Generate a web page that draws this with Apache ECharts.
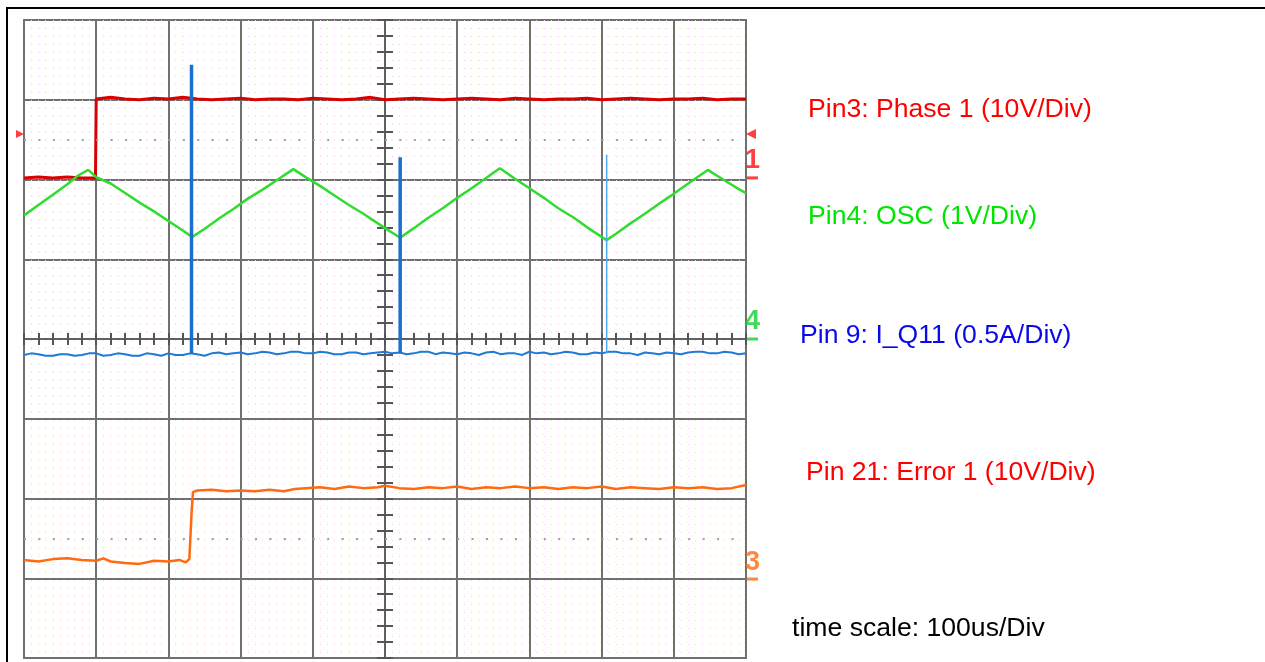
<!DOCTYPE html>
<html><head><meta charset="utf-8">
<script src="https://cdn.jsdelivr.net/npm/echarts@6/dist/echarts.min.js"></script>
<style>
html,body{margin:0;padding:0;background:#fff;overflow:hidden}
#frame{position:absolute;left:6px;top:7px;width:1400px;height:800px;border-left:2px solid #000;border-top:2px solid #000}
#chart{position:absolute;left:0;top:0;width:1265px;height:662px}
</style></head><body>
<div id="frame"></div><div id="chart"></div>
<script>
// time in microseconds (100 us / div, trigger at centre), amplitude in divisions (centre = 0)
const phaseTrace = [
  [-500,2.02],[-480,2.03],[-460,2.02],[-440,2.03],[-420,2.02],[-401,2.02],
  [-400,3.01],[-380,3.03],[-360,3.01],[-340,3.00],[-320,3.02],[-300,3.01],[-280,3.03],[-260,3.01],
  [-240,3.00],[-220,3.01],[-200,3.02],[-180,3.00],[-160,3.01],[-140,3.01],[-120,3.00],[-100,3.02],
  [-80,3.01],[-60,3.00],[-40,3.01],[-20,3.03],[0,3.00],[20,3.01],[40,3.02],[60,3.01],[80,3.00],
  [100,3.01],[120,3.02],[140,3.01],[160,3.00],[180,3.02],[200,3.01],[220,3.00],[240,3.01],[260,3.01],
  [280,3.02],[300,3.00],[320,3.01],[340,3.02],[360,3.01],[380,3.00],[400,3.01],[420,3.01],[440,3.02],
  [460,3.00],[480,3.01],[500,3.01]
];
const oscTrace = [
  [-500,1.55],[-480,1.68],[-460,1.81],[-440,1.94],[-425,2.05],[-411,2.12],[-400,2.03],[-380,1.95],
  [-360,1.83],[-340,1.71],[-320,1.60],[-300,1.48],[-280,1.36],[-267,1.28],[-250,1.38],[-230,1.51],
  [-210,1.63],[-190,1.76],[-170,1.87],[-150,1.99],[-127,2.13],[-110,2.03],[-90,1.92],[-70,1.80],
  [-50,1.68],[-30,1.57],[-10,1.45],[0,1.39],[21,1.27],[40,1.39],[60,1.52],[80,1.64],[100,1.77],
  [120,1.89],[140,2.02],[159,2.14],[180,2.01],[200,1.89],[220,1.77],[240,1.64],[260,1.53],[280,1.40],
  [307,1.24],[320,1.32],[340,1.45],[360,1.57],[380,1.70],[400,1.82],[420,1.95],[447,2.12],[470,1.99],
  [490,1.88],[500,1.83]
];
const currentTrace = [
  [-500,-0.20],[-490,-0.18],[-480,-0.19],[-470,-0.21],[-460,-0.21],[-450,-0.19],[-440,-0.19],[-430,-0.21],
  [-420,-0.20],[-410,-0.18],[-400,-0.18],[-390,-0.21],[-380,-0.20],[-370,-0.18],[-360,-0.19],[-350,-0.21],
  [-340,-0.21],[-330,-0.18],[-320,-0.19],[-310,-0.21],[-300,-0.18],[-290,-0.20],[-280,-0.20],[-270,-0.18],
  [-260,-0.19],[-250,-0.21],[-240,-0.18],[-230,-0.17],[-220,-0.19],[-210,-0.18],[-200,-0.17],[-190,-0.19],
  [-180,-0.18],[-170,-0.16],[-160,-0.17],[-150,-0.19],[-140,-0.18],[-130,-0.16],[-120,-0.16],[-110,-0.18],
  [-100,-0.18],[-90,-0.16],[-80,-0.17],[-70,-0.19],[-60,-0.19],[-50,-0.17],[-40,-0.17],[-30,-0.19],
  [-20,-0.18],[-10,-0.17],[0,-0.16],[10,-0.18],[20,-0.17],[30,-0.19],[40,-0.18],[50,-0.16],[60,-0.16],
  [70,-0.19],[80,-0.17],[90,-0.18],[100,-0.19],[110,-0.17],[120,-0.18],[130,-0.20],[140,-0.17],[150,-0.16],
  [160,-0.19],[170,-0.18],[180,-0.18],[190,-0.20],[200,-0.16],[210,-0.18],[220,-0.17],[230,-0.19],
  [240,-0.18],[250,-0.16],[260,-0.17],[270,-0.19],[280,-0.19],[290,-0.17],[300,-0.18],[310,-0.16],
  [320,-0.16],[330,-0.18],[340,-0.18],[350,-0.20],[360,-0.17],[370,-0.18],[380,-0.19],[390,-0.17],
  [400,-0.18],[410,-0.19],[420,-0.17],[430,-0.16],[440,-0.16],[450,-0.18],[460,-0.18],[470,-0.16],
  [480,-0.17],[490,-0.19],[500,-0.18]
];
const spikeTimes = [-268, 21, 307];
const spikeTops = [3.44, 2.28, 2.31];
const spikeBase = -0.18;
const errorTrace = [
  [-500,-2.77],[-480,-2.79],[-460,-2.76],[-440,-2.75],[-420,-2.77],[-400,-2.78],[-390,-2.75],[-380,-2.79],
  [-360,-2.81],[-340,-2.82],[-320,-2.78],[-300,-2.79],[-285,-2.77],[-276,-2.80],[-271,-2.76],[-268,-2.2],
  [-266,-1.92],[-260,-1.90],[-240,-1.89],[-220,-1.91],[-200,-1.90],[-180,-1.91],[-160,-1.89],[-140,-1.91],
  [-125,-1.88],[-110,-1.87],[-90,-1.86],[-70,-1.88],[-50,-1.85],[-30,-1.87],[-10,-1.86],[0,-1.84],
  [20,-1.87],[40,-1.88],[60,-1.86],[80,-1.87],[100,-1.85],[120,-1.88],[140,-1.86],[160,-1.87],[180,-1.85],
  [200,-1.87],[220,-1.86],[240,-1.88],[260,-1.86],[280,-1.87],[300,-1.85],[320,-1.88],[340,-1.86],
  [360,-1.87],[380,-1.88],[400,-1.86],[420,-1.87],[440,-1.86],[460,-1.88],[480,-1.87],[500,-1.83]
];
const groundDots = [2.5, -2.5];
const triggerLevel = 2.57;
const channelRefs = [
  {ch:'1', level:2.02, color:'#ff1010'},
  {ch:'4', level:0.0, color:'#10d030'},
  {ch:'3', level:-3.01, color:'#ff6a10'}
];
const legendTexts = [
  {text:'Pin3: Phase 1 (10V/Div)', color:'#ff0000'},
  {text:'Pin4: OSC (1V/Div)', color:'#00e600'},
  {text:'Pin 9: I_Q11 (0.5A/Div)', color:'#0a0ae8'},
  {text:'Pin 21: Error 1 (10V/Div)', color:'#ff0000'},
  {text:'time scale: 100us/Div', color:'#000000'}
];
const legendPos = [[808,107],[808,214],[800,333],[806,470],[792,626]];

const spikeData = (idxs) => {
  const out = [];
  idxs.forEach(i => { out.push([spikeTimes[i], spikeBase], [spikeTimes[i], spikeTops[i]], [spikeTimes[i], spikeBase], null); });
  return out;
};

const chart = echarts.init(document.getElementById('chart'), null, {renderer:'canvas'});
const centreAxis = (dim, inside, len) => ({
  type:'value', min: dim==='x'?-500:-4, max: dim==='x'?500:4, interval: dim==='x'?20:0.2,
  axisLine:{show:true, onZero:true, onZeroAxisIndex:0, lineStyle:{color:'#606060', width:2}},
  axisTick:{show:true, inside:inside, length:len, lineStyle:{color:'#555', width:2}},
  axisLabel:{show:false}, splitLine:{show:false}
});
chart.setOption({
  animation:false,
  backgroundColor:'transparent',
  grid:{left:24, top:20, width:722, height:638, outerBoundsMode:'none', show:true, borderColor:'#7a7a7a', borderWidth:2, backgroundColor:'#fff'},
  xAxis:[
    {type:'value', min:-500, max:500, interval:100,
     axisLine:{show:false}, axisTick:{show:false}, axisLabel:{show:false},
     splitLine:{show:true, lineStyle:{color:'#707070', width:2}},
     minorTick:{show:false, splitNumber:10},
     minorSplitLine:{show:true, lineStyle:{color:'#f2cdee', width:1, type:[1,7]}}},
    centreAxis('x', false, 6), centreAxis('x', true, 6)
  ],
  yAxis:[
    {type:'value', min:-4, max:4, interval:1,
     axisLine:{show:false}, axisTick:{show:false}, axisLabel:{show:false},
     splitLine:{show:true, lineStyle:{color:'#707070', width:2}},
     minorTick:{show:false, splitNumber:10},
     minorSplitLine:{show:true, lineStyle:{color:'#f3ecb8', width:1, type:[1,6.2]}}},
    centreAxis('y', false, 8), centreAxis('y', true, 8)
  ],
  graphic: legendTexts.map((t,i) => ({
    type:'text', left:legendPos[i][0], top:legendPos[i][1]-11,
    style:{text:t.text, fill:t.color, font:'26.6px "Liberation Sans", Arial, sans-serif'}
  })),
  series:[
    {name:'Phase 1', type:'line', data:phaseTrace, showSymbol:false, symbol:'none', z:3,
     lineStyle:{color:'#d80000', width:3},
     markLine:{silent:true, symbol:'none', label:{show:false},
       lineStyle:{color:'#a0a0a0', width:2, type:[2,12.44]},
       data: groundDots.map(v => ({yAxis:v}))}},
    {name:'OSC', type:'line', data:oscTrace, showSymbol:false, symbol:'none', z:4,
     lineStyle:{color:'#2fdc2f', width:2.5}},
    {name:'Error 1', type:'line', data:errorTrace, showSymbol:false, symbol:'none', z:4,
     lineStyle:{color:'#ff6a10', width:2.5}},
    {name:'I_Q11', type:'line', data:currentTrace, showSymbol:false, symbol:'none', z:5,
     lineStyle:{color:'#1e7ad2', width:2}},
    {name:'I_Q11 spikes', type:'line', data:spikeData([0,1]), showSymbol:false, symbol:'none', z:6, connectNulls:false,
     lineStyle:{color:'#1a70cc', width:3.5}},
    {name:'I_Q11 spike thin', type:'line', data:spikeData([2]), showSymbol:false, symbol:'none', z:6, connectNulls:false,
     lineStyle:{color:'#4ea8f0', width:1.5}},
    {name:'trigger', type:'scatter', clip:false, z:7, symbol:'triangle', itemStyle:{color:'#ff1010'},
     data:[
       {value:[-500, triggerLevel], symbolRotate:-90, symbolSize:[8,8], symbolOffset:[-4,0]},
       {value:[500, triggerLevel], symbolRotate:90, symbolSize:[10,10], symbolOffset:[5,0]}
     ]},
    {name:'channels', type:'scatter', clip:false, z:7, symbol:'rect', symbolSize:[11,3], symbolOffset:[6.5,0],
     data: channelRefs.map(c => ({value:[500, c.level], itemStyle:{color:c.color},
       label:{show:true, formatter:c.ch, position:'top', distance:2, color:c.color,
              fontSize:27, fontWeight:'bold', fontFamily:'"Liberation Sans", Arial'}}))}
  ]
});
</script></body></html>
